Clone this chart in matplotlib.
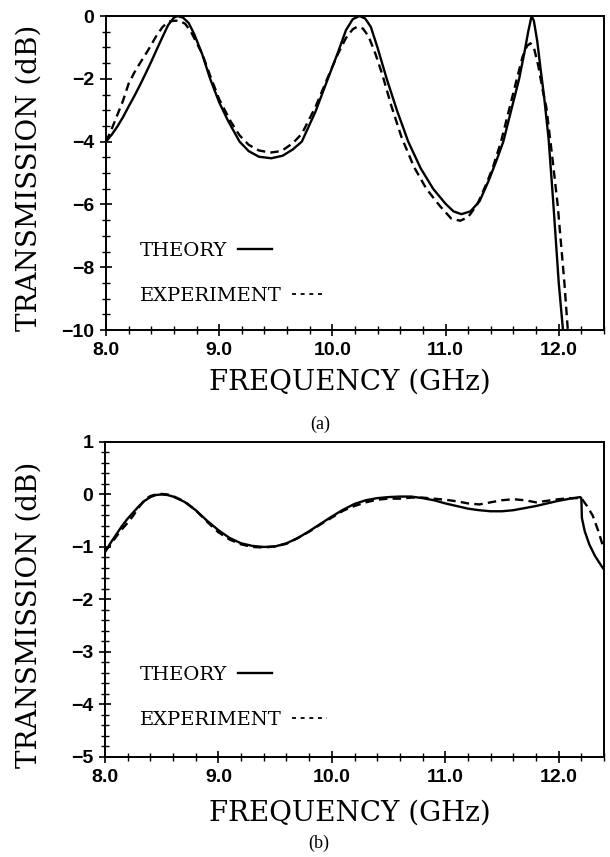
import numpy as np
import matplotlib.pyplot as plt
from matplotlib.lines import Line2D
from matplotlib.ticker import MultipleLocator, FormatStrFormatter

# (a) theory / experiment
fa_th = [8.00, 8.05, 8.10, 8.15, 8.20, 8.25, 8.30, 8.35, 8.40, 8.45, 8.50, 8.55, 8.60, 8.63,
         8.68, 8.73, 8.78, 8.85, 8.92, 9.00, 9.08, 9.18, 9.26, 9.35, 9.46,
         9.56, 9.65, 9.73, 9.85, 9.96, 10.05, 10.12, 10.18, 10.24,
         10.29, 10.34, 10.40, 10.48, 10.57, 10.67, 10.78, 10.89, 11.00, 11.07, 11.14,
         11.22, 11.30, 11.38, 11.45, 11.51, 11.58, 11.65, 11.70, 11.73, 11.76,
         11.78, 11.81, 11.84, 11.87, 11.91, 11.95, 12.00, 12.05]
ta_th = [-4.00, -3.78, -3.52, -3.22, -2.88, -2.55, -2.20, -1.83, -1.45, -1.05, -0.66, -0.28, -0.05, 0.00,
         -0.05, -0.22, -0.58, -1.22, -2.00, -2.75, -3.35, -4.00, -4.30, -4.48, -4.53,
         -4.45, -4.25, -4.00, -3.05, -2.00, -1.15, -0.45, -0.10, 0.00,
         -0.08, -0.35, -1.02, -2.00, -3.00, -4.00, -4.85, -5.50, -5.98, -6.22, -6.31,
         -6.22, -5.90, -5.25, -4.60, -4.00, -3.00, -2.00, -1.10, -0.50, 0.00,
         -0.15, -0.80, -1.70, -2.55, -3.90, -5.86, -8.50, -10.5]

fa_ex = [8.00, 8.05, 8.10, 8.15, 8.20, 8.25, 8.30, 8.37, 8.45, 8.50, 8.55, 8.60, 8.65, 8.70,
         8.75, 8.85, 8.92, 9.00, 9.10, 9.18, 9.26, 9.35, 9.45, 9.55, 9.65, 9.73, 9.85, 9.96,
         10.05, 10.12, 10.18, 10.22, 10.27, 10.32, 10.38, 10.44, 10.52, 10.61, 10.72, 10.83,
         10.95, 11.05, 11.13, 11.20, 11.28, 11.36, 11.42, 11.49, 11.56, 11.63, 11.68, 11.72,
         11.75, 11.78, 11.82, 11.86, 11.89, 11.94, 11.99, 12.05, 12.09]
ta_ex = [-4.00, -3.60, -3.15, -2.70, -2.15, -1.80, -1.50, -1.10, -0.60, -0.35, -0.18, -0.15, -0.15, -0.25,
         -0.50, -1.20, -1.90, -2.65, -3.35, -3.80, -4.10, -4.28, -4.35, -4.30, -4.05, -3.75, -2.90, -1.95,
         -1.20, -0.70, -0.42, -0.34, -0.40, -0.65, -1.20, -1.85, -2.85, -3.85, -4.80, -5.50,
         -6.05, -6.45, -6.52, -6.40, -6.00, -5.35, -4.80, -4.00, -3.00, -2.00, -1.30, -0.95,
         -0.87, -1.00, -1.60, -2.40, -2.90, -4.40, -6.00, -8.50, -10.5]

# (b)
fb_th = [8.00, 8.05, 8.10, 8.15, 8.20, 8.25, 8.30, 8.35, 8.40, 8.45, 8.50, 8.55, 8.60, 8.70,
         8.80, 8.90, 9.00, 9.10, 9.20, 9.30, 9.40, 9.50, 9.60, 9.70, 9.80, 9.90, 10.00,
         10.10, 10.20, 10.30, 10.40, 10.50, 10.60, 10.70, 10.80, 10.90, 11.00, 11.10, 11.20,
         11.30, 11.40, 11.50, 11.60, 11.70, 11.80, 11.90, 12.00, 12.10, 12.19, 12.20,
         12.205, 12.23, 12.27, 12.32, 12.38, 12.40]
tb_th = [-1.10, -0.92, -0.76, -0.60, -0.46, -0.34, -0.22, -0.12, -0.05, -0.01, 0.00, -0.01, -0.04, -0.14,
         -0.30, -0.50, -0.68, -0.83, -0.93, -0.98, -1.00, -0.99, -0.93, -0.83, -0.70, -0.56, -0.42,
         -0.29, -0.18, -0.11, -0.07, -0.05, -0.04, -0.04, -0.07, -0.11, -0.17, -0.22, -0.27,
         -0.30, -0.32, -0.32, -0.30, -0.26, -0.22, -0.17, -0.12, -0.08, -0.05, -0.07,
         -0.45, -0.70, -0.95, -1.17, -1.37, -1.43]

fb_ex = [8.00, 8.05, 8.10, 8.15, 8.20, 8.25, 8.30, 8.35, 8.40, 8.45, 8.50, 8.55, 8.60, 8.70,
         8.80, 8.90, 9.00, 9.10, 9.20, 9.30, 9.40, 9.50, 9.60, 9.70, 9.80, 9.90, 10.00,
         10.10, 10.20, 10.30, 10.40, 10.50, 10.60, 10.70, 10.80, 10.90, 11.00, 11.10, 11.20,
         11.30, 11.40, 11.50, 11.60, 11.70, 11.80, 11.90, 12.00, 12.10, 12.20,
         12.25, 12.30, 12.35, 12.40]
tb_ex = [-1.08, -0.95, -0.80, -0.66, -0.54, -0.40, -0.24, -0.10, -0.03, 0.00, 0.01, 0.00, -0.03, -0.13,
         -0.30, -0.52, -0.72, -0.86, -0.95, -1.00, -1.01, -0.99, -0.94, -0.83, -0.71, -0.57, -0.44,
         -0.31, -0.22, -0.15, -0.10, -0.08, -0.08, -0.06, -0.06, -0.08, -0.10, -0.13, -0.17,
         -0.19, -0.15, -0.11, -0.09, -0.11, -0.15, -0.12, -0.09, -0.07, -0.07,
         -0.22, -0.40, -0.70, -1.05]

xticks = [8.0, 9.0, 10.0, 11.0, 12.0]

plt.rcParams['font.family'] = 'DejaVu Serif'
tickfont = {'family': 'Liberation Sans', 'weight': 'bold', 'size': 14}

fig = plt.figure(figsize=(6.1, 8.57), dpi=100)
ax1 = fig.add_axes([0.1738, 0.6149, 0.8164, 0.3664])
ax2 = fig.add_axes([0.1721, 0.1167, 0.8181, 0.3676])

lw = 1.7
dash = (3.6, 2.2)


def style(ax, ylim, ymaj, ymin):
    ax.set_xlim(8.0, 12.4)
    ax.set_ylim(*ylim)
    ax.set_xticks(xticks)
    ax.xaxis.set_major_formatter(FormatStrFormatter('%.1f'))
    ax.xaxis.set_minor_locator(MultipleLocator(0.2))
    ax.yaxis.set_major_locator(MultipleLocator(ymaj))
    ax.yaxis.set_minor_locator(MultipleLocator(ymin))
    ax.tick_params(which='major', direction='inout', length=9, width=1.2, pad=4)
    ax.tick_params(which='minor', direction='inout', length=6, width=1.0)
    for lab in ax.get_xticklabels() + ax.get_yticklabels():
        lab.set_fontfamily(tickfont['family'])
        lab.set_fontweight(tickfont['weight'])
        lab.set_fontsize(tickfont['size'])
    for s in ax.spines.values():
        s.set_linewidth(1.4)
    ax.set_xlabel('FREQUENCY (GHz)', fontsize=20)
    ax.set_ylabel('TRANSMISSION (dB)', fontsize=20)
    ax.yaxis.label.set_va('center')
    ax.xaxis.label.set_va('center')


def legend(ax, th, x0, y_th, y_ex):
    proxy = Line2D([], [], color='black', lw=1.3, dashes=(2.2, 2.6))
    kw = dict(loc='center left', frameon=False, markerfirst=False, borderpad=0,
              borderaxespad=0, handletextpad=0.55, handlelength=1.75,
              prop={'family': 'DejaVu Serif', 'size': 14})
    l1 = ax.legend([th], ['THEORY'], bbox_to_anchor=(x0, y_th), **kw)
    ax.add_artist(l1)
    ax.legend([proxy], ['EXPERIMENT'], bbox_to_anchor=(x0, y_ex), **kw)


# (a)
th1, = ax1.plot(fa_th, ta_th, color='black', lw=lw)
ax1.plot(fa_ex, ta_ex, color='black', lw=lw, dashes=dash)
style(ax1, (-10, 0), 2, 0.5)
ax1.xaxis.set_label_coords(0.49, -0.166)
ax1.yaxis.set_label_coords(-0.155, 0.485)
legend(ax1, th1, 0.068, 0.252, 0.108)

# (b)
th2, = ax2.plot(fb_th, tb_th, color='black', lw=lw)
ax2.plot(fb_ex, tb_ex, color='black', lw=lw, dashes=dash)
style(ax2, (-5, 1), 1, 0.2)
ax2.xaxis.set_label_coords(0.49, -0.178)
ax2.yaxis.set_label_coords(-0.153, 0.45)
legend(ax2, th2, 0.070, 0.26, 0.117)

fig.text(0.525, 1 - 424 / 857, '(a)', ha='center', va='center',
         fontfamily='Liberation Serif', fontsize=13)
fig.text(0.522, 1 - 843 / 857, '(b)', ha='center', va='center',
         fontfamily='Liberation Serif', fontsize=13)

fig.savefig('out.png', dpi=100)
